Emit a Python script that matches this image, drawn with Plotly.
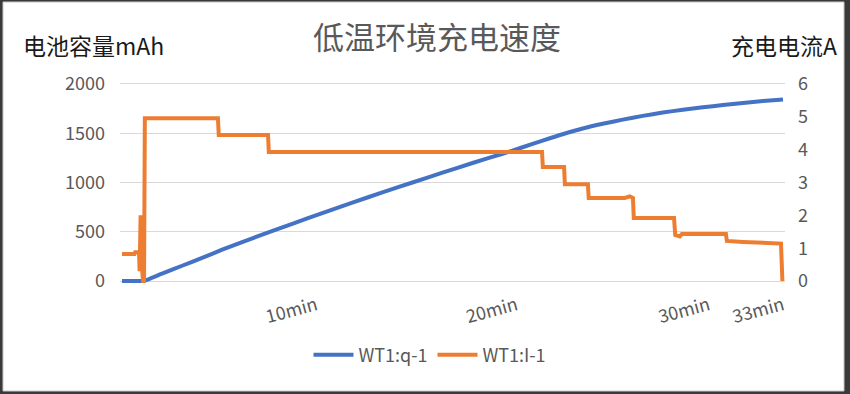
import plotly.graph_objects as go

# ---- data ----
q_time = [0, 0.5, 1.05, 1.15, 2.0, 3.0, 4.0, 5.0, 6.0, 7.0, 8.5, 10.0, 11.5, 13.0, 14.5,
          16.0, 17.5, 19.0, 20.0, 21.0, 22.0, 23.0, 24.0, 25.0, 26.0, 27.0, 28.0, 29.0,
          30.0, 31.0, 32.0, 33.0]
q_mAh = [0, 0, 0, 5, 75, 155, 235, 318, 395, 470, 580, 690, 795, 900, 1000,
         1100, 1198, 1292, 1358, 1425, 1490, 1548, 1596, 1638, 1676, 1710, 1738, 1763,
         1786, 1807, 1826, 1842]

i_time = [0, 0.62, 0.66, 0.85, 0.88, 0.93, 0.97, 1.05, 1.10, 1.14, 4.79, 4.83, 7.29, 7.33,
          20.97, 21.01, 22.07, 22.11, 23.26, 23.30, 25.1, 25.35, 25.51, 25.55, 27.56, 27.62,
          27.85, 27.95, 30.15, 30.20, 31.0, 32.0, 32.9, 32.97]
i_A = [0.82, 0.82, 0.88, 0.88, 0.3, 2.0, 0.6, 0.0, 0.0, 4.96, 4.96, 4.45, 4.45, 3.93,
       3.93, 3.47, 3.47, 2.95, 2.95, 2.53, 2.53, 2.58, 2.53, 1.92, 1.92, 1.40, 1.36, 1.43,
       1.43, 1.22, 1.19, 1.16, 1.14, 0.0]

x_tick_pos = [9.7, 19.7, 29.3, 33.0]
x_tick_text = ["10min", "20min", "30min", "33min"]
y_left_ticks = [0, 500, 1000, 1500, 2000]
y_right_ticks = [0, 1, 2, 3, 4, 5, 6]

title_text = "低温环境充电速度"
left_label = "电池容量mAh"
right_label = "充电电流A"

# ---- layout geometry (pixels) ----
W, H = 850, 394
L, R, T, B = 120, 65, 82, 111
pw, ph = W - L - R, H - T - B


def px(x):
    return (x - L) / pw


def py(y):
    return (H - B - y) / ph


CJK = "Noto Sans CJK SC"
GRAY = "#595959"

fig = go.Figure()
fig.add_trace(go.Scatter(x=q_time, y=q_mAh, name="WT1:q-1", mode="lines",
                         line=dict(color="#4472C4", width=4, shape="spline",
                                   smoothing=0.6), yaxis="y"))
fig.add_trace(go.Scatter(x=i_time, y=i_A, name="WT1:I-1", mode="lines",
                         line=dict(color="#ED7D31", width=4), yaxis="y2"))

fig.update_layout(
    width=W, height=H,
    margin=dict(l=L, r=R, t=T, b=B),
    paper_bgcolor="#3a3a3a",
    plot_bgcolor="rgba(0,0,0,0)",
    font=dict(family=CJK, color=GRAY, size=18),
    showlegend=True,
    legend=dict(orientation="h", x=px(430), xanchor="center", y=py(355), yanchor="middle",
                font=dict(size=18, color=GRAY), bgcolor="rgba(0,0,0,0)",
                itemwidth=40, tracegroupgap=0),
    xaxis=dict(range=[-0.1, 33.1], tickvals=x_tick_pos, ticktext=x_tick_text,
               tickangle=-15, showgrid=False, zeroline=False, showline=False,
               ticks="", ticklabelstandoff=8, tickfont=dict(size=18, color=GRAY)),
    yaxis=dict(range=[-20, 2020], tickvals=y_left_ticks, showgrid=True,
               gridcolor="#d9d9d9", gridwidth=1, zeroline=False, showline=False,
               ticks="", ticklabelstandoff=14, tickfont=dict(size=18, color=GRAY)),
    yaxis2=dict(range=[-0.06, 6.06], tickvals=y_right_ticks, overlaying="y",
                side="right", showgrid=False, zeroline=False, showline=False,
                ticks="", ticklabelstandoff=12, tickfont=dict(size=18, color=GRAY)),
    shapes=[dict(type="rect", xref="paper", yref="paper", layer="below",
                 x0=px(3), x1=px(844), y0=py(391), y1=py(2),
                 fillcolor="white", line=dict(color="#c8c8c8", width=1))],
    annotations=[
        dict(text=title_text, xref="paper", yref="paper", x=px(437), y=py(35),
             xanchor="center", yanchor="middle", showarrow=False,
             font=dict(family=CJK, size=31, color=GRAY)),
        dict(text=left_label, xref="paper", yref="paper", x=px(93), y=py(45),
             xanchor="center", yanchor="middle", showarrow=False,
             font=dict(family=CJK, size=23, color="#1a1a1a")),
        dict(text=right_label, xref="paper", yref="paper", x=px(784), y=py(45),
             xanchor="center", yanchor="middle", showarrow=False,
             font=dict(family=CJK, size=23, color="#1a1a1a")),
    ],
)

fig.write_html("out.html")
